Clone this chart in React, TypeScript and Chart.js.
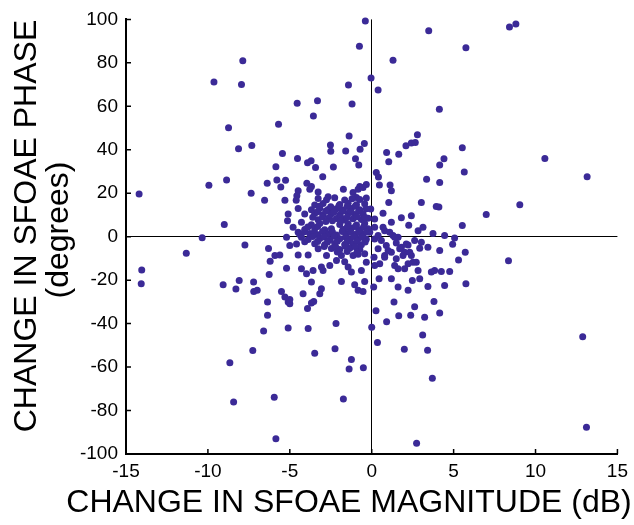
import React, { useEffect, useRef } from 'react';
import { Chart, registerables } from 'chart.js';

Chart.register(...registerables);

// Axis ticks
const X_TICKS = [-15, -10, -5, 0, 5, 10, 15];
const Y_TICKS = [-100, -80, -60, -40, -20, 0, 20, 40, 60, 80, 100];
const X_TITLE = 'CHANGE IN SFOAE MAGNITUDE (dB)';
const Y_TITLE = ['CHANGE IN SFOAE PHASE', '(degrees)'];

// [change in magnitude (dB), change in phase (degrees)]
const upperPoints: [number, number][] = [
  [-7.87, 81.0], [-9.63, 71.2], [-7.95, 70.0], [-8.74, 50.1], [-8.13, 40.5], [-7.32, 42.0],
  [-0.39, 99.3], [3.48, 94.8], [-0.75, 87.7], [1.3, 81.2], [-0.04, 73.0], [-1.42, 69.8],
  [0.39, 67.5], [-4.55, 61.4], [-3.31, 62.6], [-1.2, 61.1], [4.13, 58.6], [-3.56, 55.6],
  [-5.69, 51.8], [-1.38, 46.3], [2.79, 46.9], [-2.52, 42.2], [-0.45, 42.9], [2.42, 43.1],
  [2.66, 43.4], [2.09, 41.8], [-5.45, 38.3], [-2.5, 39.3], [-1.59, 39.4], [-0.71, 40.3],
  [0.91, 38.8], [1.65, 38.0], [-4.53, 36.0], [-3.7, 35.0], [-0.99, 35.9], [4.41, 35.9],
  [1.04, 34.5], [8.41, 96.5], [8.8, 97.9], [5.75, 86.9], [5.53, 40.9], [10.57, 36.0],
];

const rightPoints: [number, number][] = [
  [4.15, 33.0], [5.65, 29.8], [13.15, 27.6], [4.15, 24.9], [9.04, 14.7], [6.99, 10.2],
  [4.1, 13.7], [5.53, 5.2], [4.45, 0.5], [5.06, -0.6], [4.94, -3.5], [4.15, -6.3],
  [5.71, -7.2], [5.3, -10.7], [8.35, -11.1], [4.25, -16.0], [4.76, -16.0], [4.45, -22.5],
  [5.75, -21.7], [4.15, -35.1], [12.88, -46.0], [13.11, -87.7],
];

const lowerPoints: [number, number][] = [
  [-6.36, -30.1], [-5.1, -30.0], [-5.0, -30.9], [-3.68, -30.5], [-3.54, -29.8], [-3.92, -33.0],
  [-6.36, -36.2], [-6.6, -43.4], [-5.1, -42.0], [-3.88, -42.3], [-2.18, -39.9], [0.0, -41.7],
  [-3.48, -53.6], [-2.24, -51.6], [-1.24, -56.5], [-1.38, -60.9], [-0.51, -60.3], [-5.95, -73.9],
  [-1.73, -74.7], [-5.85, -93.0], [2.74, -95.0], [0.35, -48.7], [0.26, -34.1], [0.91, -39.1],
  [1.36, -30.1], [1.65, -36.4], [2.38, -36.2], [2.62, -32.2], [3.23, -37.1], [3.8, -29.8],
  [3.11, -45.2], [1.99, -51.8], [3.41, -52.2], [3.7, -65.1], [-7.26, -52.4], [-8.66, -58.0],
  [-8.43, -76.1],
];

const leftPoints: [number, number][] = [
  [-14.2, 19.7], [-9.94, 23.7], [-8.86, 26.1], [-7.36, 20.0], [-6.54, 16.8], [-6.38, 24.6],
  [-9.0, 5.6], [-10.35, -0.5], [-7.74, -3.8], [-6.3, -5.4], [-11.32, -7.6], [-14.04, -15.3],
  [-14.07, -21.7], [-9.07, -22.1], [-8.09, -20.2], [-8.29, -24.1], [-7.21, -20.8], [-7.2, -25.2],
  [-6.99, -24.7], [-6.26, -17.4], [-6.2, -11.3],
];

const centerPoints: [number, number][] = [
  [-5.85, 32.2], [-3.92, 34.0], [-3.43, 31.9], [-2.34, 32.1], [-0.79, 33.0], [0.28, 29.5],
  [0.41, 27.5], [-2.99, 27.6], [-5.79, 26.1], [-5.26, 26.0], [-5.55, 22.9], [-3.96, 24.6],
  [-3.68, 23.1], [-3.78, 21.8], [-1.73, 21.8], [-0.73, 23.1], [-0.33, 24.0], [0.47, 23.8],
  [1.12, 23.8], [3.35, 26.4], [-4.49, 21.1], [-4.57, 18.8], [-4.61, 16.8], [-5.3, 16.8],
  [1.2, 21.1], [1.04, 15.7], [3.03, 15.7], [3.94, 13.9], [1.81, 8.7], [2.42, 9.6],
  [2.26, 5.3], [2.83, 2.7], [3.13, 4.3], [3.74, 1.5], [0.69, 10.8], [1.2, 6.6],
  [0.69, 4.3], [0.18, 8.1], [-0.06, 12.7], [-5.1, 10.4], [-5.14, 7.3], [-4.8, 4.3],
  [-4.29, 6.6], [-4.09, 10.4], [-4.49, 13.0], [-5.2, -0.3], [-5.0, -4.1], [-4.59, -3.4],
  [-4.49, 2.0], [-4.29, -0.3], [-4.09, -2.3], [-5.91, -8.7], [-5.61, -8.4], [-5.2, -14.5],
  [-4.49, -8.4], [-3.88, -8.4], [-3.27, -5.6], [-5.51, -25.2], [-5.3, -27.8], [-5.0, -28.9],
  [-4.19, -26.3], [-3.17, -26.3], [-3.07, -24.0], [-1.85, -20.6], [-1.04, -22.1], [-0.43, -20.6],
  [-0.83, -24.7], [-0.53, -25.2], [0.12, -23.2], [1.61, -23.2], [2.22, -24.7], [2.48, -20.2],
  [2.93, -19.4], [3.64, -16.3], [3.84, -15.6], [3.43, -22.9], [2.93, -5.3], [2.72, -11.8],
  [2.83, -15.6], [2.22, -12.5], [2.42, -8.7], [2.01, -7.2], [1.61, -14.8], [1.2, -19.4],
  [0.45, -19.4], [0.49, -12.5], [0.14, -9.5], [-0.33, -11.8], [-0.63, -15.6], [-1.24, -16.3],
  [-1.44, -14.0], [-2.15, -11.0], [-2.56, -13.3], [-2.97, -15.6], [-2.76, -8.7], [-1.85, -8.7],
  [-1.65, -11.5], [-1.14, -8.7], [-0.83, -8.1], [-0.43, -7.9], [-3.68, -20.9], [-3.98, -17.1],
  [-4.29, -14.8], [-3.58, -15.6], [-3.07, -14.0],
  [-3.27, 20.6], [-1.14, 20.3], [-0.83, 21.8], [-0.53, 22.6], [-0.93, 18.0], [-0.33, 17.8],
  [-2.66, 18.4],
];

const nearZeroPoints: [number, number][] = [
  [0.18, 4.3], [0.79, 2.7], [1.3, 0.5], [1.5, -2.9], [1.71, -5.6], [1.2, -7.2],
  [0.89, -4.1], [0.59, -1.8], [1.91, -8.7], [1.5, -10.2], [0.79, -8.7], [0.39, -5.6],
  [0.18, -1.1], [2.62, -1.8], [3.03, -2.6], [3.43, -4.9], [2.22, -3.8], [1.61, -0.3],
  [-0.12, 2.0], [1.1, 2.0], [1.4, -0.3], [1.81, -4.9], [2.11, -3.4], [2.32, -7.2],
  [2.52, -11.8], [2.01, -14.8], [1.4, -13.3], [0.79, -9.5], [0.18, -13.3], [0.39, 0.5],
  [1.0, -6.4],
];

const corePoints: [number, number][] = [
  [-3.27, 17.6], [-2.76, 17.0], [-2.26, 17.9], [-1.65, 16.9], [-1.2, 17.5], [-0.73, 17.1],
  [-3.48, 14.6], [-2.97, 15.3], [-1.95, 14.8], [-1.44, 15.4], [-0.93, 14.7], [-0.43, 15.2],
  [-3.68, 12.4], [-3.17, 13.1], [-2.66, 12.5], [-2.15, 12.9], [-1.75, 12.3], [-1.24, 13.0],
  [-0.73, 12.4], [-0.33, 12.9], [-3.48, 10.7], [-2.97, 10.1], [-2.46, 10.6], [-1.95, 10.0],
  [-1.44, 10.8], [-1.04, 10.2], [-0.53, 10.6], [-3.27, 7.8], [-2.15, 8.4], [-1.65, 7.7],
  [-1.14, 8.3], [-0.63, 7.9], [-0.22, 8.5], [-3.68, 5.5], [-3.17, 6.1], [-1.95, 5.6],
  [-1.44, 6.0], [-0.93, 5.4], [-0.43, 6.1], [-4.09, 3.3], [-3.48, 3.8], [-2.87, 3.2],
  [-2.46, 3.7], [-1.75, 3.3], [-1.24, 3.9], [-0.73, 3.2], [-0.22, 3.7], [-4.39, 1.0],
  [-3.78, 1.5], [-3.27, 0.9], [-2.66, 1.4], [-2.15, 0.8], [-1.54, 1.5], [-1.04, 1.0],
  [-0.53, 1.4], [-3.88, -1.3], [-3.17, -0.8], [-2.56, -1.4], [-1.95, -0.9], [-1.34, -1.3],
  [-0.83, -0.8], [-0.33, -1.2], [-3.48, -3.2], [-2.87, -3.7], [-2.26, -3.1], [-1.65, -3.6],
  [-1.14, -3.2], [-0.63, -3.7], [-2.46, -5.4], [-1.95, -5.9], [-1.34, -5.3], [-0.73, -5.8],
];

const coreFillPoints: [number, number][] = [
  [-3.2, 14.0], [-2.5, 13.8], [-2.0, 14.2], [-1.5, 13.9], [-1.0, 14.1],
  [-3.3, 11.5], [-2.8, 11.8], [-2.3, 11.4], [-1.8, 11.7], [-1.3, 11.5], [-0.8, 11.8],
  [-3.6, 9.0], [-3.0, 9.2], [-2.6, 8.8], [-1.9, 9.1], [-1.5, 8.9], [-0.9, 9.2], [-0.4, 8.8],
  [-2.8, 7.0], [-2.4, 7.3], [-1.9, 7.1],
  [-3.9, 4.5], [-3.3, 4.7], [-1.5, 4.4], [-1.0, 4.7], [-0.5, 4.5],
  [-4.1, 2.3], [-3.5, 2.1], [-3.0, 2.4], [-2.4, 2.2], [-1.8, 2.4], [-1.3, 2.1], [-0.8, 2.3], [-0.3, 2.2],
  [-3.6, 0.1], [-2.9, -0.1], [-2.3, 0.2], [-1.6, -0.1], [-1.1, 0.1], [-0.6, -0.2],
  [-3.3, -2.2], [-2.7, -2.4], [-2.1, -2.1], [-1.5, -2.3], [-0.9, -2.1], [-0.4, -2.4],
  [-2.9, -4.5], [-2.2, -4.7], [-1.6, -4.4], [-1.0, -4.6],
  [-2.1, -7.0], [-1.5, -6.8], [-0.9, -7.1],
];

const allPoints = [
  ...upperPoints, ...rightPoints, ...lowerPoints, ...leftPoints,
  ...centerPoints, ...nearZeroPoints, ...corePoints, ...coreFillPoints,
];

const FONT = "'Liberation Sans', Arial, Helvetica, sans-serif";

const axisDecor = {
  id: 'axisDecor',
  afterDraw(chart: any) {
    const { ctx, chartArea, scales } = chart;
    const { left, bottom } = chartArea;
    const xs = scales.x;
    const ys = scales.y;
    ctx.save();
    ctx.strokeStyle = '#000';
    ctx.lineWidth = 1.5;
    ctx.beginPath();
    xs.ticks.forEach((t: any) => {
      const px = xs.getPixelForValue(t.value);
      ctx.moveTo(px, bottom);
      ctx.lineTo(px, bottom - 5);
    });
    ys.ticks.forEach((t: any) => {
      const py = ys.getPixelForValue(t.value);
      ctx.moveTo(left, py);
      ctx.lineTo(left + 5, py);
    });
    ctx.stroke();

    // titles
    ctx.fillStyle = '#000';
    ctx.font = `32px ${FONT}`;
    ctx.textAlign = 'center';
    ctx.textBaseline = 'alphabetic';
    ctx.fillText(X_TITLE, 349, 512);

    ctx.textBaseline = 'middle';
    ctx.save();
    ctx.translate(27, 226);
    ctx.rotate(-Math.PI / 2);
    ctx.fillText(Y_TITLE[0], 0, 0);
    ctx.restore();
    ctx.save();
    ctx.translate(59, 230);
    ctx.rotate(-Math.PI / 2);
    ctx.fillText(Y_TITLE[1], 0, 0);
    ctx.restore();
    ctx.restore();
  },
};

export default function App() {
  const ref = useRef<HTMLCanvasElement>(null);
  useEffect(() => {
    document.body.style.margin = '0';
    const canvas = ref.current;
    if (!canvas) return;
    const zeroColor = (c: any) => (c.tick && c.tick.value === 0 ? '#000' : 'rgba(0,0,0,0)');
    const chart = new Chart(canvas, {
      type: 'scatter',
      data: {
        datasets: [
          {
            data: allPoints.map(([x, y]) => ({ x, y })),
            backgroundColor: '#3b2a97',
            borderWidth: 0,
            pointRadius: 3.5,
            clip: false as any,
          },
        ],
      },
      options: {
        responsive: false,
        animation: false,
        devicePixelRatio: 1,
        layout: { padding: { top: 17, right: 16, left: 0, bottom: 0 } },
        plugins: { legend: { display: false }, tooltip: { enabled: false } },
        scales: {
          x: {
            type: 'linear',
            min: -15,
            max: 15,
            afterBuildTicks: (s: any) => {
              s.ticks = X_TICKS.map((v) => ({ value: v }));
            },
            afterFit: (s: any) => {
              s.height = 71;
            },
            grid: { color: zeroColor, lineWidth: 1, drawTicks: false },
            border: { display: true, color: '#000', width: 2 },
            ticks: {
              padding: 6,
              color: '#000',
              font: { family: FONT, size: 19 },
              maxRotation: 0,
              autoSkip: false,
            },
          },
          y: {
            type: 'linear',
            min: -100,
            max: 100,
            afterBuildTicks: (s: any) => {
              s.ticks = Y_TICKS.map((v) => ({ value: v }));
            },
            afterFit: (s: any) => {
              s.width = 126;
            },
            grid: { color: zeroColor, lineWidth: 1, drawTicks: false },
            border: { display: true, color: '#000', width: 2 },
            ticks: {
              padding: 8,
              color: '#000',
              font: { family: FONT, size: 19 },
              autoSkip: false,
            },
          },
        },
      },
      plugins: [axisDecor],
    });
    return () => chart.destroy();
  }, []);
  return <canvas ref={ref} width={634} height={525} style={{ display: 'block' }} />;
}
